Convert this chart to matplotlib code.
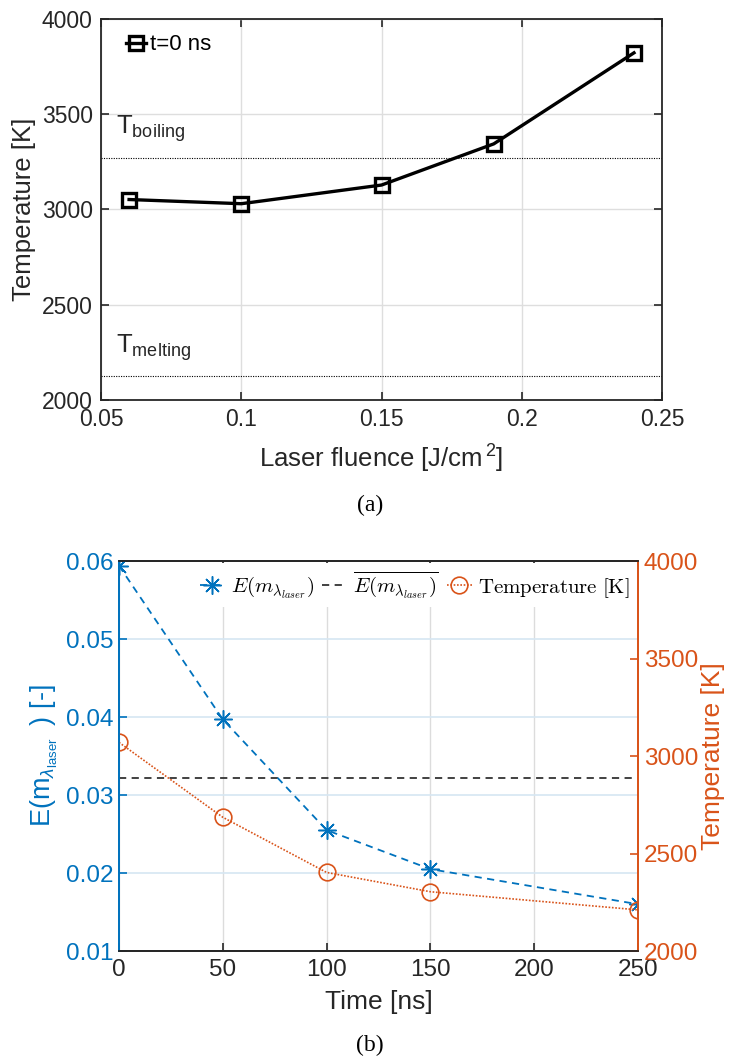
import matplotlib
matplotlib.use("Agg")
import matplotlib.pyplot as plt

plt.rcParams["font.family"] = ["Liberation Sans", "DejaVu Sans"]
plt.rcParams["mathtext.fontset"] = "custom"
plt.rcParams["mathtext.rm"] = "Liberation Sans"
plt.rcParams["mathtext.it"] = "Liberation Sans:italic"
plt.rcParams["mathtext.bf"] = "Liberation Sans:bold"

# (a) temperature at t=0 vs laser fluence
fluence = [0.06, 0.10, 0.15, 0.19, 0.24]
temp_t0 = [3052, 3030, 3128, 3344, 3822]
t_boiling = 3271
t_melting = 2124
fluence_ticks = [0.05, 0.10, 0.15, 0.20, 0.25]
fluence_ticklabels = ["0.05", "0.1", "0.15", "0.2", "0.25"]
temp_ticks_a = [2000, 2500, 3000, 3500, 4000]

# (b) time evolution
time_ns = [0, 50, 100, 150, 250]
e_m = [0.0594, 0.0397, 0.0255, 0.0205, 0.0160]
e_m_mean = 0.0322
temp_b = [3070, 2686, 2403, 2304, 2211]
time_ticks = [0, 50, 100, 150, 200, 250]
e_ticks = [0.01, 0.02, 0.03, 0.04, 0.05, 0.06]
e_ticklabels = ["0.01", "0.02", "0.03", "0.04", "0.05", "0.06"]
temp_ticks_b = [2000, 2500, 3000, 3500, 4000]

BLUE = "#0072BD"
ORANGE = "#D95319"
DARK = "#262626"

fig = plt.figure(figsize=(7.3, 10.62), dpi=100)

# ---------- panel (a) ----------
ax = fig.add_axes([0.1384, 0.6234, 0.7685, 0.3588])
ax.plot(fluence, temp_t0, color="black", lw=2.4, marker="s", ms=10.5,
        mfc="none", mec="black", mew=2.4, label="t=0 ns", zorder=3)
ax.axhline(t_boiling, color="black", ls=(0, (1, 1.2)), lw=0.8)
ax.axhline(t_melting, color="black", ls=(0, (1, 1.2)), lw=0.8)
ax.text(0.0555, 3395, r"T$_{\mathrm{boiling}}$", fontsize=18.5, color=DARK)
ax.text(0.0555, 2245, r"T$_{\mathrm{melting}}$", fontsize=18.5, color=DARK)
ax.set_xlim(0.05, 0.25)
ax.set_ylim(2000, 4000)
ax.set_xticks(fluence_ticks)
ax.set_xticklabels(fluence_ticklabels)
ax.set_yticks(temp_ticks_a)
ax.grid(True, color="#dedede", lw=1.0)
ax.set_axisbelow(True)
ax.tick_params(direction="in", length=6, width=1.2, labelsize=16.5,
               colors=DARK, top=True, right=True, pad=6)
for sp in ax.spines.values():
    sp.set_color(DARK)
    sp.set_linewidth(1.3)
ax.set_xlabel(r"Laser fluence [J/cm$^{\,2}$]", fontsize=18.5, color=DARK, labelpad=8)
ax.set_ylabel("Temperature [K]", fontsize=18.5, color=DARK, labelpad=4)
ax.legend(loc="upper left", frameon=False, fontsize=16, handlelength=0.9,
          handletextpad=0.2, borderaxespad=0.3, bbox_to_anchor=(0.016, 1.0))
fig.text(0.507, 0.5245, "(a)", fontsize=17, family="Liberation Serif",
         ha="center", va="center")

# ---------- panel (b) ----------
axb = fig.add_axes([0.163, 0.1045, 0.711, 0.3672])
axr = axb.twinx()
l1, = axb.plot(time_ns, e_m, color=BLUE, ls=(0, (4, 3)), lw=1.3,
               marker=(8, 2, 0), ms=13, mew=1.1,
               label=r"$E(m_{\lambda_{laser}})$", zorder=4)
l2 = axb.axhline(e_m_mean, color="#333333", ls=(0, (4, 3)), lw=1.3,
                 label=r"$\overline{E(m_{\lambda_{laser}})}$")
l3, = axr.plot(time_ns, temp_b, color=ORANGE, ls=(0, (1, 1)), lw=1.2,
               marker="o", ms=12, mfc="none", mec=ORANGE, mew=1.2,
               label=r"$\mathrm{Temperature\ [K]}$")
axb.set_xlim(0, 250)
axb.set_ylim(0.01, 0.06)
axr.set_ylim(2000, 4000)
axb.set_xticks(time_ticks)
axb.set_yticks(e_ticks)
axb.set_yticklabels(e_ticklabels)
axr.set_yticks(temp_ticks_b)
axb.xaxis.grid(True, color="#dcdcdc", lw=1.0)
axb.yaxis.grid(True, color="#d6e6f2", lw=1.2)
axb.set_axisbelow(True)
axb.tick_params(axis="x", direction="in", length=6, width=1.2, labelsize=17.5,
                colors=DARK, top=True, pad=6)
axb.tick_params(axis="y", direction="in", length=6, width=1.2, labelsize=17.5,
                colors=BLUE, right=False, pad=4)
axr.tick_params(axis="y", direction="in", length=6, width=1.2, labelsize=17.5,
                colors=ORANGE, pad=4)
for a in (axb, axr):
    for name, sp in a.spines.items():
        sp.set_linewidth(1.3)
        sp.set_color(DARK)
    a.spines["left"].set_color(BLUE)
    a.spines["right"].set_color(ORANGE)
axb.set_xlabel("Time [ns]", fontsize=19, color=DARK, labelpad=6)
axb.set_ylabel(r"E(m$_{\lambda_{\mathrm{laser}}}\;\;$) [-]", fontsize=19.5,
               color=BLUE, labelpad=4)
axr.set_ylabel("Temperature [K]", fontsize=19, color=ORANGE, labelpad=2)
leg = axr.legend(handles=[l1, l2, l3], loc="upper right", ncol=3,
                 prop={"size": 15, "math_fontfamily": "cm"},
                 handlelength=1.2, handletextpad=0.3, columnspacing=0.4,
                 borderaxespad=0.1, borderpad=0.3, fancybox=False,
                 framealpha=1.0, edgecolor="none")
fig.text(0.507, 0.016, "(b)", fontsize=17, family="Liberation Serif",
         ha="center", va="center")

fig.savefig("out.png", dpi=100)
